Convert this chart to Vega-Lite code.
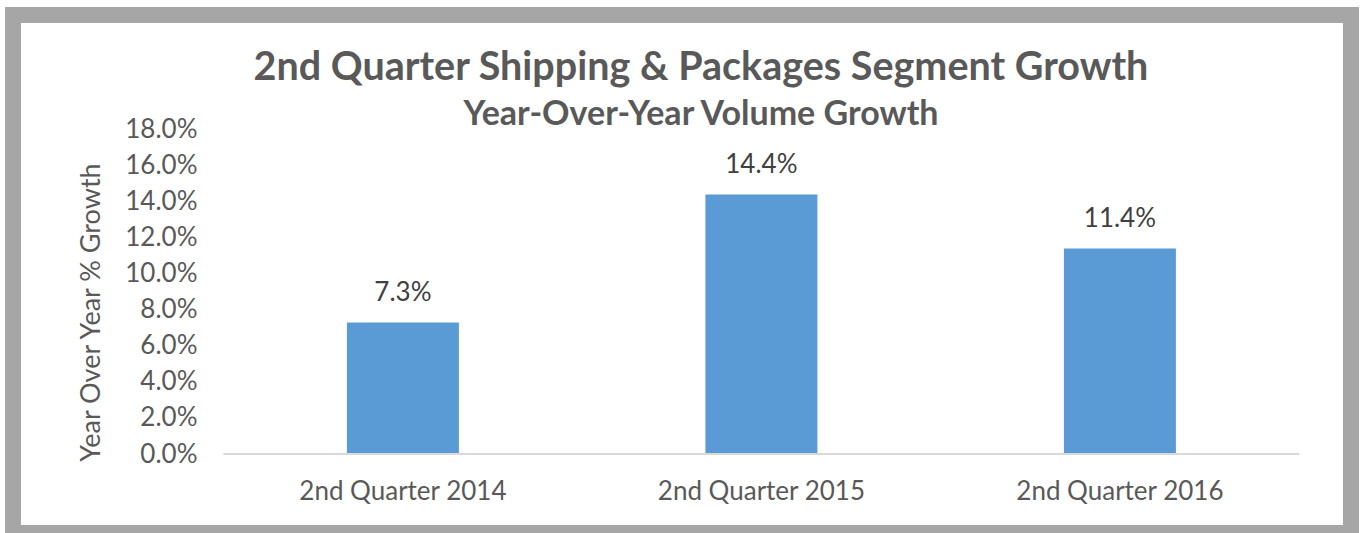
{
  "$schema": "https://vega.github.io/schema/vega-lite/v6.json",
  "width": 1338,
  "height": 518,
  "autosize": {"type": "none"},
  "padding": {"left": 13, "top": 15, "right": 12, "bottom": 0},
  "background": "white",
  "view": {"stroke": "#a6a6a6", "strokeWidth": 16, "fill": "white"},
  "title": {
    "text": "2nd Quarter Shipping & Packages Segment Growth",
    "subtitle": "Year-Over-Year Volume Growth",
    "anchor": "middle",
    "frame": "group",
    "offset": -118,
    "dx": 19,
    "font": "Lato",
    "fontSize": 39.5,
    "fontWeight": "bold",
    "color": "#595959",
    "subtitleFont": "Lato",
    "subtitleFontSize": 34,
    "subtitleFontWeight": "bold",
    "subtitleColor": "#595959",
    "subtitlePadding": 10
  },
  "data": {
    "values": [
      {"quarter": "2nd Quarter 2014", "growth": 0.073},
      {"quarter": "2nd Quarter 2015", "growth": 0.144},
      {"quarter": "2nd Quarter 2016", "growth": 0.114}
    ]
  },
  "encoding": {
    "x": {
      "field": "quarter",
      "type": "nominal",
      "sort": null,
      "scale": {"paddingInner": 0.6876, "paddingOuter": 0.7099, "align": 0.656},
      "axis": {
        "title": null,
        "labelAngle": 0,
        "labelLimit": 0,
        "domain": false,
        "ticks": false,
        "tickSize": 0,
        "offset": -79,
        "labelPadding": 24,
        "labelBaseline": "top",
        "labelFont": "Lato",
        "labelFontSize": 26,
        "labelColor": "#595959"
      }
    },
    "y": {
      "field": "growth",
      "type": "quantitative",
      "scale": {"domain": [-0.04382, 0.24351], "nice": false, "zero": false},
      "axis": {
        "values": [0, 0.02, 0.04, 0.06, 0.08, 0.1, 0.12, 0.14, 0.16, 0.18],
        "format": ".1%",
        "grid": false,
        "domain": false,
        "ticks": false,
        "tickSize": 0,
        "offset": -212,
        "labelPadding": 28,
        "labelFont": "Lato",
        "labelFontSize": 26,
        "labelColor": "#595959",
        "title": "Year Over Year % Growth",
        "titleFont": "Lato",
        "titleFontSize": 27,
        "titleFontWeight": "normal",
        "titleColor": "#595959",
        "titleAngle": 270,
        "titleAlign": "center",
        "titleBaseline": "middle",
        "titleX": -134,
        "titleY": 297
      }
    }
  },
  "layer": [
    {
      "mark": {"type": "bar", "color": "#5b9bd5"},
      "encoding": {"y2": {"datum": 0}}
    },
    {
      "mark": {"type": "text", "baseline": "bottom", "dy": -16, "font": "Lato", "fontSize": 26, "color": "#404040"},
      "encoding": {"text": {"field": "growth", "type": "quantitative", "format": ".1%"}}
    },
    {
      "mark": {"type": "rule", "color": "#d9d9d9", "strokeWidth": 2},
      "encoding": {
        "x": {"datum": "2nd Quarter 2014", "bandPosition": -1.1},
        "x2": {"datum": "2nd Quarter 2016", "bandPosition": 2.1},
        "y": {"datum": 0}
      }
    }
  ]
}
